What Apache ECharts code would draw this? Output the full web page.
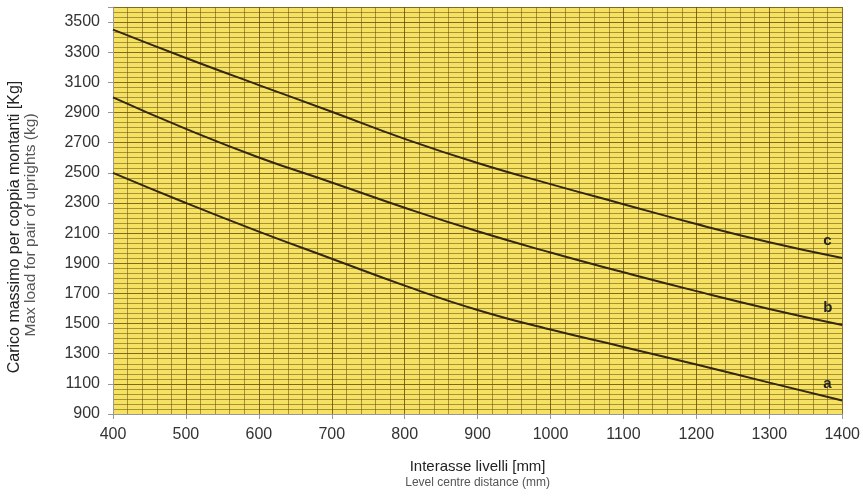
<!DOCTYPE html>
<html>
<head>
<meta charset="utf-8">
<script src="https://cdn.jsdelivr.net/npm/echarts@6/dist/echarts.min.js"></script>
<style>
html,body{margin:0;padding:0;background:#fff;}
#chart{width:863px;height:502px;}
</style>
</head>
<body>
<div id="chart"></div>
<script>
var distances = [400, 500, 600, 700, 800, 900, 1000, 1100, 1200, 1300, 1400];
var loadA = [2500, 2300, 2110, 1930, 1752, 1590, 1460, 1345, 1228, 1108, 990];
var loadB = [3000, 2791, 2602, 2436, 2268, 2112, 1971, 1840, 1715, 1597, 1490];
var loadC = [3450, 3262, 3082, 2905, 2725, 2565, 2425, 2292, 2160, 2040, 1935];
var curveNames = ['a', 'b', 'c'];
var yTitle = 'Carico massimo per coppia montanti [Kg]';
var ySubtitle = 'Max load for pair of uprights (kg)';

var FONT = '"Liberation Sans", Arial, sans-serif';

var chart = echarts.init(document.getElementById('chart'), null, { renderer: 'canvas' });
var gridLine = 'rgba(95,70,10,0.78)';
var minorLine = 'rgba(110,85,20,0.58)';

chart.setOption({
  animation: false,
  backgroundColor: '#ffffff',
  grid: {
    left: 113, right: 18, top: 7, bottom: 88,
    show: true, backgroundColor: '#f6e262', borderWidth: 0
  },
  graphic: [
    {
      type: 'text', x: 15, y: 227, rotation: Math.PI / 2,
      style: {
        text: yTitle, font: '16px ' + FONT, fill: '#222',
        textAlign: 'center', textVerticalAlign: 'middle'
      }
    },
    {
      type: 'text', x: 31, y: 225, rotation: Math.PI / 2,
      style: {
        text: ySubtitle, font: '15.5px ' + FONT, fill: '#555',
        textAlign: 'center', textVerticalAlign: 'middle'
      }
    }
  ],
  xAxis: {
    type: 'value', min: 400, max: 1400, interval: 100,
    name: '{t|Interasse livelli [mm]}\n{s|Level centre distance (mm)}',
    nameLocation: 'middle', nameGap: 45,
    nameTextStyle: {
      rich: {
        t: { fontSize: 15, color: '#222', fontFamily: FONT, lineHeight: 16 },
        s: { fontSize: 12, color: '#555', fontFamily: FONT, lineHeight: 16 }
      }
    },
    axisLine: { show: true, lineStyle: { color: '#999', width: 1 } },
    axisTick: { show: true, length: 5, lineStyle: { color: '#999' } },
    axisLabel: {
      fontSize: 16, color: '#333', margin: 13, fontFamily: FONT,
      formatter: function (v) { return String(v); }
    },
    splitLine: { show: true, lineStyle: { color: gridLine, width: 1 } },
    minorTick: { show: false, splitNumber: 5 },
    minorSplitLine: { show: true, lineStyle: { color: minorLine, width: 1 } }
  },
  yAxis: {
    type: 'value', min: 900, max: 3600, interval: 200,
    axisLine: { show: true, lineStyle: { color: '#999', width: 1 } },
    axisTick: { show: true, length: 5, lineStyle: { color: '#999' } },
    axisLabel: {
      fontSize: 16, color: '#333', margin: 13, fontFamily: FONT,
      formatter: function (v) { return v > 3500 ? '' : String(v); }
    },
    splitLine: { show: true, lineStyle: { color: gridLine, width: 1 } },
    minorTick: { show: false, splitNumber: 6 },
    minorSplitLine: { show: true, lineStyle: { color: minorLine, width: 1 } }
  },
  series: [loadA, loadB, loadC].map(function (vals, k) {
    return {
      type: 'line', name: curveNames[k], smooth: true, symbol: 'none',
      lineStyle: { color: '#33270f', width: 2 },
      data: distances.map(function (x, i) { return [x, vals[i]]; }),
      endLabel: {
        show: true, formatter: curveNames[k], offset: [-27, -17],
        fontSize: 15, fontWeight: 'bold', color: '#222', fontFamily: FONT
      },
      z: 5
    };
  })
});
</script>
</body>
</html>
